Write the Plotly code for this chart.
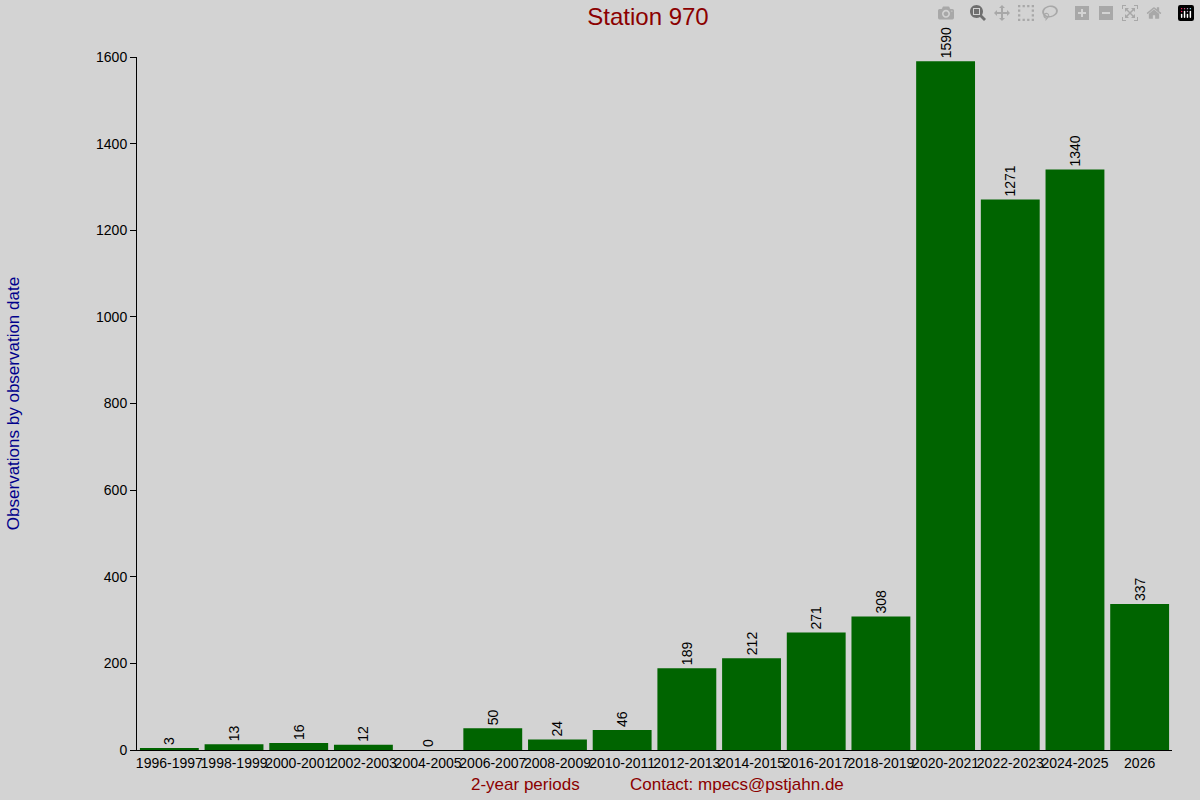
import plotly.graph_objects as go

categories = ["1996-1997","1998-1999","2000-2001","2002-2003","2004-2005","2006-2007","2008-2009",
              "2010-2011","2012-2013","2014-2015","2016-2017","2018-2019","2020-2021","2022-2023",
              "2024-2025","2026"]
values = [3,13,16,12,0,50,24,46,189,212,271,308,1590,1271,1340,337]

fig = go.Figure(go.Bar(x=categories, y=values, marker_color="#006400", marker_line_width=0,
                       text=[str(v) for v in values], textposition="outside", textangle=-90,
                       textfont=dict(color="black", size=14), cliponaxis=False))
fig.update_layout(
    width=1200, height=800, paper_bgcolor="#d3d3d3", plot_bgcolor="#d3d3d3",
    font=dict(family="Liberation Sans, Arial, sans-serif", size=14, color="black"),
    margin=dict(l=127, r=28, t=57, b=50), bargap=0.09, showlegend=False,
    title=dict(text="Station 970", x=0.54, xanchor="center", y=0.99, yanchor="top",
               font=dict(size=24, color="#8b0000")),
    uniformtext=dict(mode="show", minsize=10),
)
fig.update_xaxes(showgrid=False, showline=True, linecolor="black", ticks="", tickangle=0,
                 tickfont=dict(size=14), range=[-0.5, 15.5])
fig.update_yaxes(range=[0, 1600], showgrid=False, showline=True, linecolor="black", ticks="outside",
                 ticklen=6, tickcolor="black", dtick=200, zeroline=False,
                 title=dict(text="Observations by observation date", font=dict(color="#00008b", size=17), standoff=72))
fig.add_annotation(text="2-year periods", x=0.375, xref="paper", y=-0.033, yref="paper", yanchor="top",
                   showarrow=False, font=dict(color="#8b0000", size=17))
fig.add_annotation(text="Contact: mpecs@pstjahn.de", x=0.58, xref="paper", y=-0.033, yref="paper", yanchor="top",
                   showarrow=False, font=dict(color="#8b0000", size=17))
fig.write_html("out.html", post_script="document.body.style.margin='0';document.body.style.overflow='hidden';")
